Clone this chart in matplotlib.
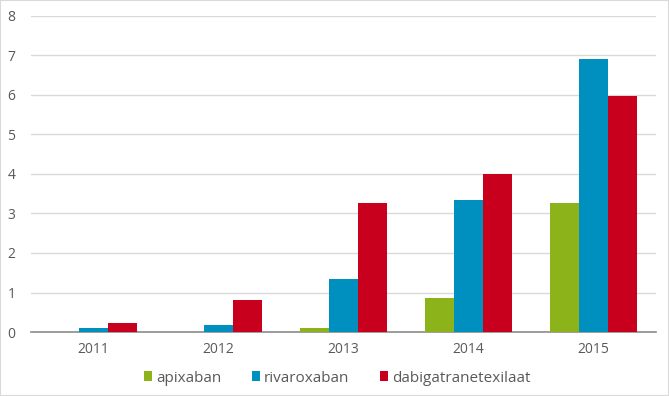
import matplotlib
matplotlib.use("Agg")
import matplotlib.pyplot as plt
import numpy as np
from matplotlib.patches import Rectangle

years = ["2011", "2012", "2013", "2014", "2015"]
apixaban = [0.0, 0.0, 0.09, 0.86, 3.27]
rivaroxaban = [0.09, 0.17, 1.34, 3.34, 6.90]
dabigatran = [0.22, 0.80, 3.27, 3.99, 5.97]
series_names = ["apixaban", "rivaroxaban", "dabigatranetexilaat"]
colors = ["#8DB31A", "#0090C0", "#C8001E"]

plt.rcParams['font.family'] = ['Open Sans', 'DejaVu Sans']
fig = plt.figure(figsize=(6.69, 3.96), dpi=100)
ax = fig.add_axes([31/669, 1-332/396, (656-31)/669, (332-16)/396])

x = np.arange(len(years))
w = 0.233
for i, (vals, name, c) in enumerate(zip([apixaban, rivaroxaban, dabigatran], series_names, colors)):
    ax.bar(x + (i-1)*w, vals, width=w, color=c, label=name, zorder=3)

ax.set_xlim(-0.5, 4.5)
ax.set_ylim(0, 8)
ax.set_yticks(range(0, 9))
ax.yaxis.grid(True, color="#D9D9D9", linewidth=1, zorder=0)
ax.set_xticks(x)
ax.set_xticklabels(years)
for s in ["top", "right", "left"]:
    ax.spines[s].set_visible(False)
ax.spines["bottom"].set_color("#8C8C8C")
ax.spines["bottom"].set_linewidth(1.2)
ax.tick_params(axis="both", length=0, labelsize=10, labelcolor="#595959")
ax.tick_params(axis="x", pad=7)
for lbl in ax.get_yticklabels():
    lbl.set_horizontalalignment("left")
ax.yaxis.set_tick_params(pad=17)

leg = fig.legend(loc="center", bbox_to_anchor=(337/669, 1-378/396), ncol=3, frameon=False,
                 fontsize=11, handlelength=0.55, handleheight=0.55, handletextpad=0.25,
                 columnspacing=2.0, labelcolor="#595959")

fig.patches.append(Rectangle((0, 0), 1, 1, transform=fig.transFigure, fill=False,
                             edgecolor="#D9D9D9", linewidth=1.5))
fig.savefig("out.png", dpi=100)
